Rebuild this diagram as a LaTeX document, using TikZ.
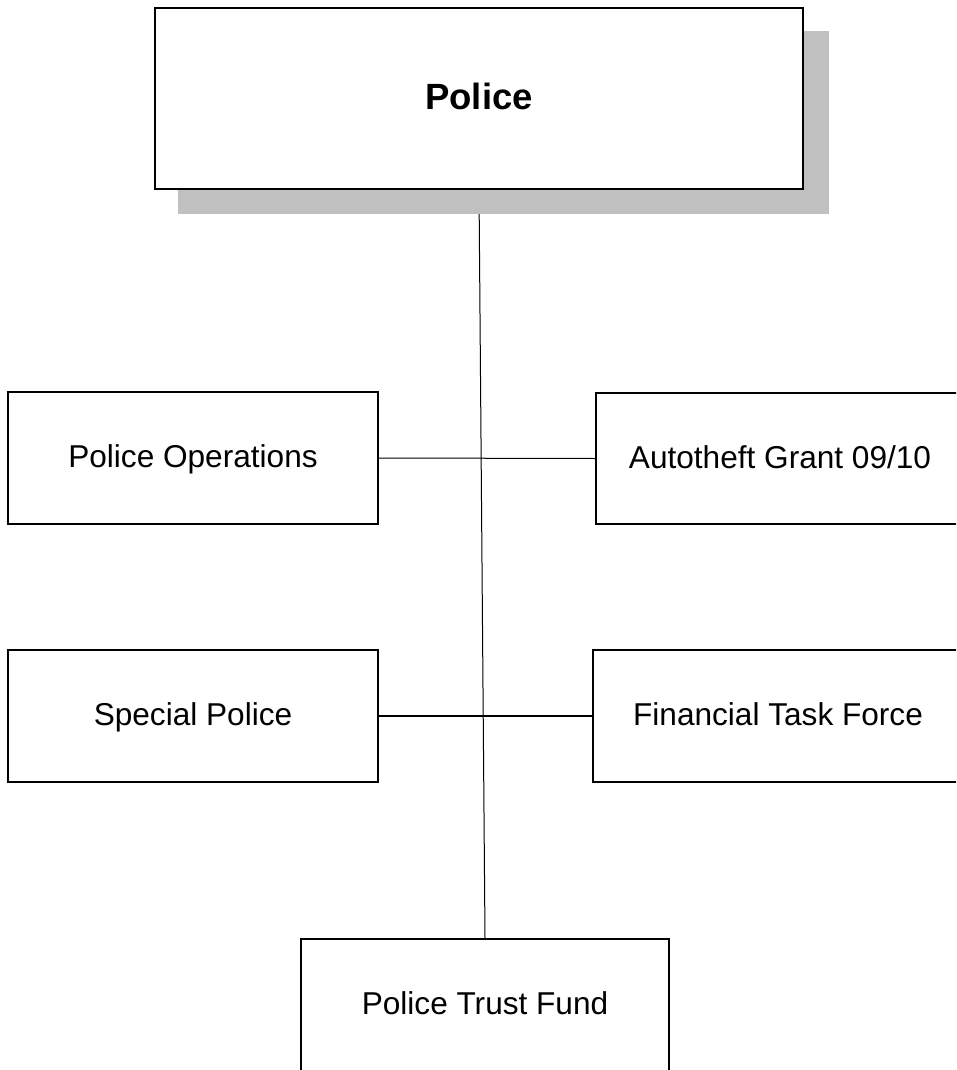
\documentclass[tikz,border=0pt]{standalone}
\usepackage{fontspec}
\setmainfont{Liberation Sans}
\usetikzlibrary{backgrounds}
\begin{document}
\begin{tikzpicture}[x=1pt,y=-1pt,
  unitbox/.style={draw=black,fill=white,line width=1.6pt,inner sep=0pt,rectangle,
    text height=22.6pt,text depth=3.3pt,
    font=\fontsize{31.6}{36}\selectfont},
  conn/.style={draw=black,line width=1pt}]
\useasboundingbox (0,0) rectangle (956,1070);
\clip (0,0) rectangle (956,1070);
% shadow of the top box
\fill[fill={rgb,255:red,192;green,192;blue,192}] (178,31) rectangle (829,214);
\node[unitbox,minimum width=648pt,minimum height=181pt,text height=26.1pt,text depth=4.5pt,
  font=\fontsize{36.5}{42}\selectfont\bfseries] (top) at (479,98.5) {Police};
\node[unitbox,minimum width=370pt,minimum height=132pt] (ops) at (193,458) {Police Operations};
\node[unitbox,minimum width=368pt,minimum height=131pt] (auto) at (780,458.5) {Autotheft Grant 09/10};
\node[unitbox,minimum width=370pt,minimum height=132pt] (spec) at (193,716) {Special Police};
\node[unitbox,minimum width=370pt,minimum height=132pt] (fin) at (778,716) {Financial Task Force};
\node[unitbox,minimum width=368pt,minimum height=132pt] (trust) at (485,1005) {Police Trust Fund};
\begin{pgfonlayer}{background}
\fill[white] (0,0) rectangle (956,1070);
\draw[conn] (top.south) -- (trust.north);
\end{pgfonlayer}
\draw[conn] (ops.east) -- (auto.west);
\draw[conn,line width=1.5pt] (spec.east) -- (fin.west);
\end{tikzpicture}
\end{document}
